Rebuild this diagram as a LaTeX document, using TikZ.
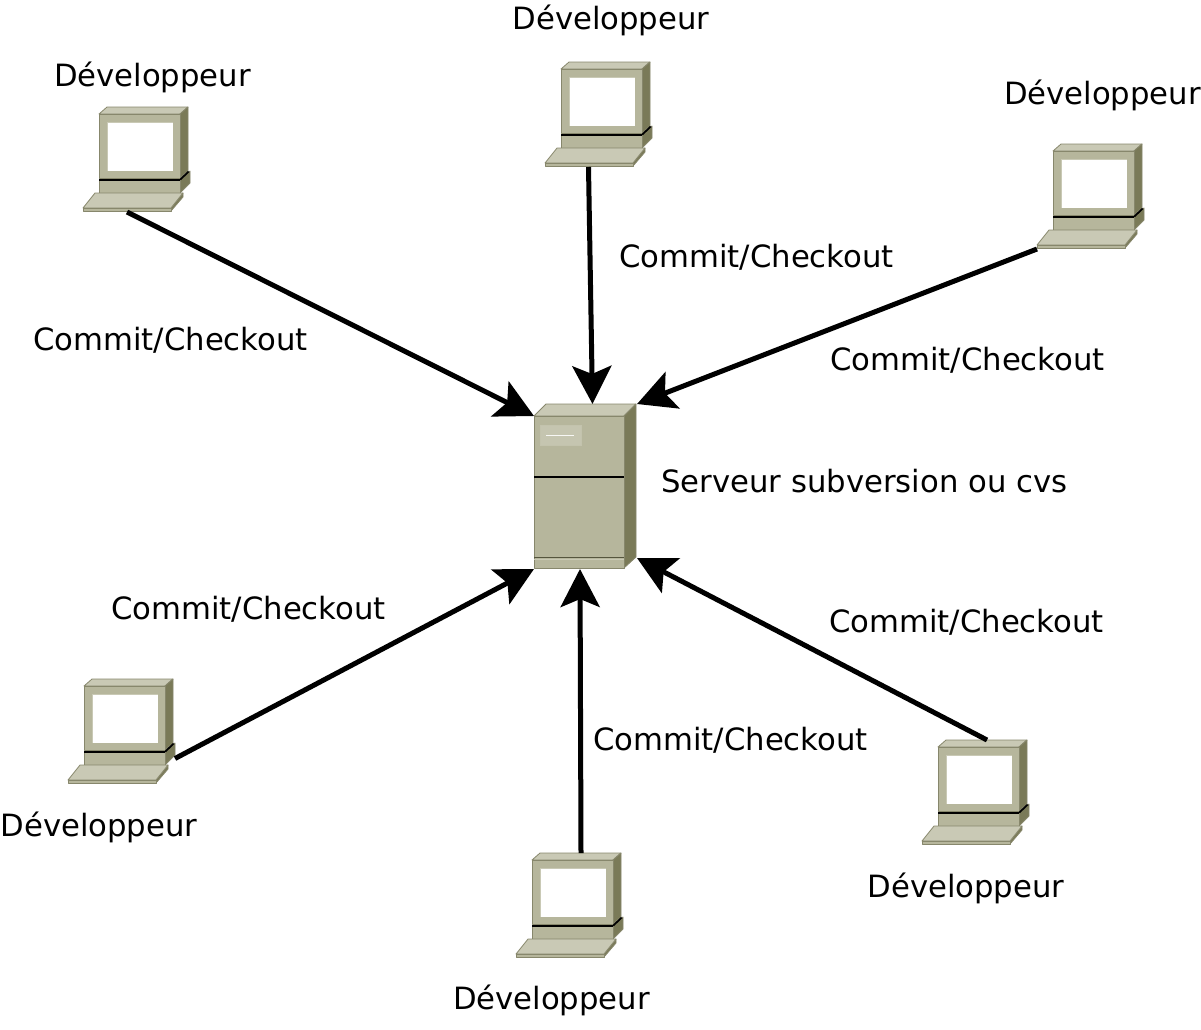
\documentclass[tikz,border=0pt]{standalone}
\usepackage{fontspec}
\setmainfont{DejaVu Sans}
\usetikzlibrary{arrows.meta}
\definecolor{hwfront}{HTML}{B6B69C}
\definecolor{hwtop}{HTML}{C9C9B5}
\definecolor{hwside}{HTML}{7A7A58}
\definecolor{hwedge}{HTML}{87876C}

\begin{document}
\begin{tikzpicture}[
    x=1pt, y=-1pt,
    >={Stealth[length=38pt, width=39pt, inset=8pt]},
    % Styles for nodes
    pcbox/.style={minimum width=108pt, minimum height=105pt, inner sep=0pt, outer sep=0pt},
    serverbox/.style={minimum width=103pt, minimum height=165pt, inner sep=0pt, outer sep=0pt},
    txt/.style={font=\fontsize{30.7}{36}\selectfont, inner sep=0pt, text height=22pt, text depth=6pt},
    link/.style={->, line width=5pt},
    hw/.style={draw=hwedge, line width=0.8pt, line join=round},
    % Computer drawn from its top left corner
    pccomputer/.pic={
        \draw[hw, fill=hwtop] (16,7) -- (24,0) -- (105,0) -- (97,7) -- cycle;
        \draw[hw, fill=hwside] (97,7) -- (105,0) -- (105,64) -- (97,71) -- cycle;
        \draw[hw, fill=hwfront] (16,7) rectangle (97,71);
        \fill[white] (24,15) rectangle (90,64);
        \draw[hwtop, line width=1pt] (24,64) -- (24,15) -- (90,15);
        \draw[hw, fill=hwside] (97,73) -- (107,64) -- (107,76) -- (97,86) -- cycle;
        \fill[black] (97,71.5) -- (105,64) -- (106.5,65) -- (97,74) -- cycle;
        \draw[hw, fill=hwfront] (16,73) rectangle (97,86);
        \draw[black, line width=2pt] (16,72.5) -- (97,72.5);
        \draw[hw, fill=hwside] (88,101) -- (100,86) -- (100,90) -- (88,104) -- cycle;
        \draw[hw, fill=hwtop] (12,86) -- (100,86) -- (88,101) -- (0,101) -- cycle;
        \draw[hw, fill=hwfront] (0,101) rectangle (88,104);
    },
    % Server drawn from its top left corner
    subserver/.pic={
        \draw[hw, fill=hwtop] (0,12) -- (12,0) -- (102,0) -- (90,12) -- cycle;
        \draw[hw, fill=hwside] (90,12) -- (102,0) -- (102,153) -- (90,164) -- cycle;
        \draw[hw, fill=hwfront] (0,12) rectangle (90,164);
        \draw[hwtop!70!hwfront, fill=hwtop!80!hwfront, line width=0.8pt] (6,21) rectangle (47,41);
        \draw[white!85!hwtop, line width=1pt] (12,31) -- (40,31);
        \draw[black, line width=2.5pt] (0,73) -- (90,73);
        \draw[hwside!70!black, line width=1pt] (0,153) -- (90,153);
        \draw[hwtop, line width=1pt] (0,155) -- (90,155);
    }
]

    % Server
    \node (server) [serverbox] at (585.5,486.5) {};
    \pic at (server.north west) {subserver};
    \node (serverlabel) [txt] at (864.5,484) {Serveur subversion ou cvs};

    % Computers
    \node (pc1) [pcbox] at (137,159.5) {};
    \node (pc2) [pcbox] at (599,114.5) {};
    \node (pc3) [pcbox] at (1091,196.5) {};
    \node (pc4) [pcbox] at (122,731.5) {};
    \node (pc5) [pcbox] at (570,905.5) {};
    \node (pc6) [pcbox] at (976,792.5) {};
    \pic at (pc1.north west) {pccomputer};
    \pic at (pc2.north west) {pccomputer};
    \pic at (pc3.north west) {pccomputer};
    \pic at (pc4.north west) {pccomputer};
    \pic at (pc5.north west) {pccomputer};
    \pic at (pc6.north west) {pccomputer};

    % Names of the computers
    \node (dev1) [txt] at (152.5,78) {Développeur};
    \node (dev2) [txt] at (611,21) {Développeur};
    \node (dev3) [txt] at (1102.5,96) {Développeur};
    \node (dev4) [txt] at (99,828) {Développeur};
    \node (dev5) [txt] at (551.5,1001) {Développeur};
    \node (dev6) [txt] at (966,889) {Développeur};

    % Arrows
    \draw [link] ([xshift=-10pt]pc1.south) -- ([yshift=-12pt]server.north west);
    \draw [link] ([xshift=-10.5pt]pc2.south) -- ([xshift=7pt]server.north);
    \draw [link] (pc3.south west) -- (server.north east);
    \draw [link] ([yshift=-27pt, xshift=-1pt]pc4.east) -- (server.south west);
    \draw [link] ([xshift=11pt]pc5.north) -- ([xshift=-5.5pt]server.south);
    \draw [link] ([xshift=11pt]pc6.north) -- ([yshift=11pt]server.south east);

    % Labels of the arrows
    \node (link1) [txt] at (170.5,342) {Commit/Checkout};
    \node (link2) [txt] at (756.5,259) {Commit/Checkout};
    \node (link3) [txt] at (967.5,362) {Commit/Checkout};
    \node (link4) [txt] at (248.5,611) {Commit/Checkout};
    \node (link5) [txt] at (730.5,742) {Commit/Checkout};
    \node (link6) [txt] at (966.5,624) {Commit/Checkout};

    \useasboundingbox (0,0) rectangle (1201,1029);

\end{tikzpicture}
\end{document}
